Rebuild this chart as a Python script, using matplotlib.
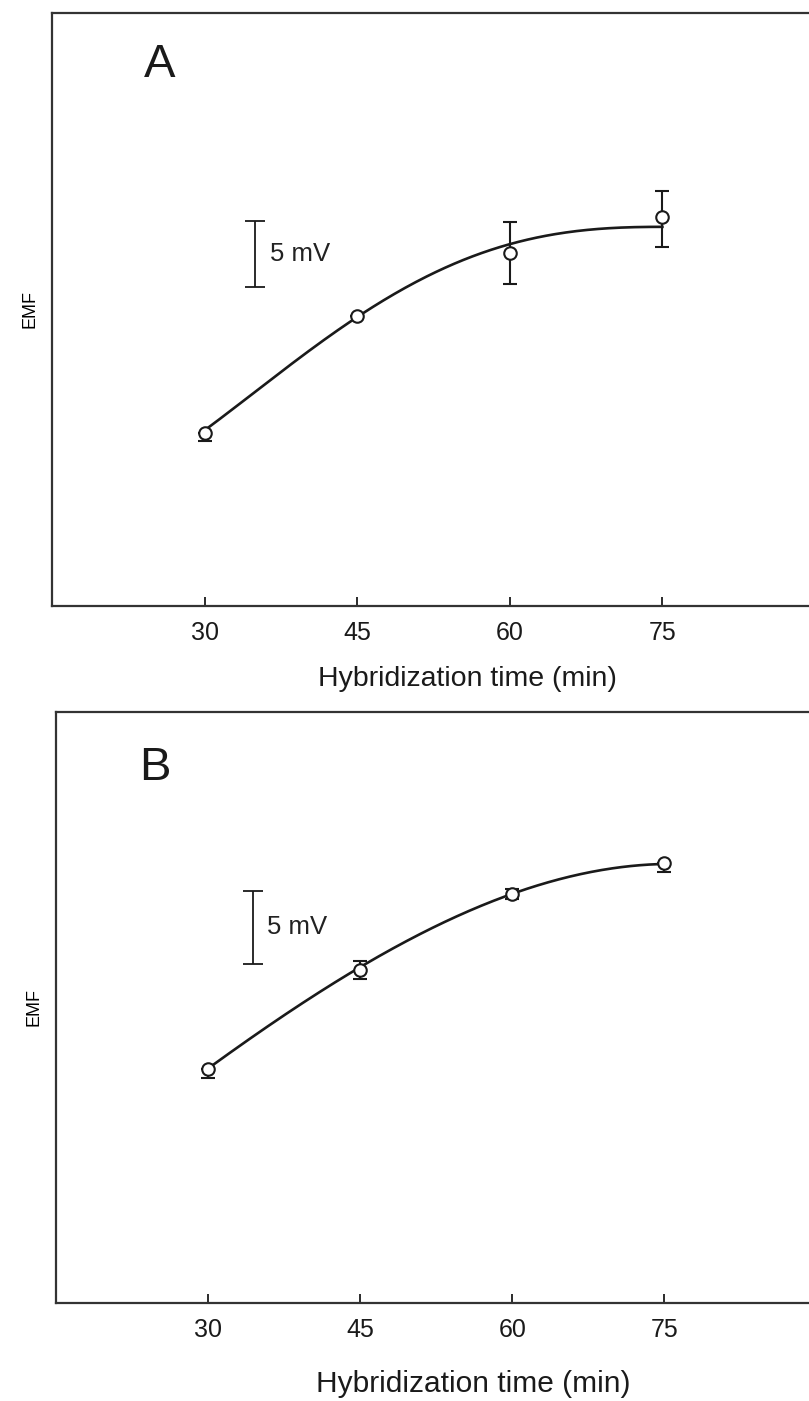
import numpy as np
import matplotlib.pyplot as plt

plt.rcParams['font.family'] = ['Liberation Sans', 'DejaVu Sans']

# hybridization time (min)
time = [30, 45, 60, 75]
tick_labels = ["30", "45", "60", "75"]

# panel A: EMF (mV, relative), error bars (lower, upper)
emf_a = [13.1, 22.0, 26.8, 29.5]
err_a_lo = [0.6, 0.0, 2.4, 2.3]
err_a_hi = [0.0, 0.0, 2.3, 2.0]
# fitted curve
fit_t = [30, 37.5, 45, 52.5, 60, 67.5, 75]
fit_a = [13.3, 17.8, 21.9, 25.1, 27.6, 28.5, 28.7]

# panel B
emf_b = [16.2, 23.1, 28.4, 30.5]
err_b_lo = [0.62, 0.65, 0.35, 0.62]
err_b_hi = [0.0, 0.65, 0.35, 0.0]
fit_b = [16.3, 19.9, 23.3, 26.2, 28.45, 29.75, 30.5]

scale_mv = 5.0


def fit_curve(t, y, xs, flat_end):
    # least squares polynomial through the curve readings
    t = np.asarray(t, float)
    if flat_end:
        # no linear term in (t_end - t): curve levels off at the last time
        s, ss = t[-1] - t, t[-1] - xs
        A = np.vstack([s**0, s**2, s**3, s**4]).T
        c = np.linalg.lstsq(A, y, rcond=None)[0]
        return c[0] + c[1]*ss**2 + c[2]*ss**3 + c[3]*ss**4
    return np.polyval(np.polyfit(t, y, 3), xs)


fig = plt.figure(figsize=(8.09, 14.01), dpi=100)
ax_a = fig.add_axes([52/809, 1-606/1401, 763/809, 593.5/1401])
ax_b = fig.add_axes([56/809, 1-1303/1401, 760.5/809, 591/1401])

panels = [
    (ax_a, emf_a, err_a_lo, err_a_hi, fit_a, True, "A", 45.0, (35.0, 24.2),
     (0.141, 0.912), 20.5, 15, 0.544),
    (ax_b, emf_b, err_b_lo, err_b_hi, fit_b, False, "B", 41.0, (34.45, 23.55),
     (0.130, 0.905), 21.5, 20, 0.548),
]

for (ax, emf, lo, hi, fv, flat, letter, ytop, bar, lpos, xl_size, xl_pad,
     xl_x) in panels:
    xs = np.linspace(fit_t[0], fit_t[-1], 300)
    ax.plot(xs, fit_curve(fit_t, fv, xs, flat), color='#1a1a1a', lw=1.9,
            zorder=2)
    ax.errorbar(time, emf, yerr=[lo, hi], fmt='o', ms=9, mfc='white',
                mec='#1a1a1a', mew=1.5, ecolor='#1a1a1a', elinewidth=1.5,
                capsize=5, capthick=1.5, zorder=3)

    # 5 mV scale bar
    ax.errorbar([bar[0]], [bar[1] + scale_mv/2], yerr=[scale_mv/2], fmt='none',
                ecolor='#1a1a1a', elinewidth=1.3, capsize=7, capthick=1.3)
    ax.text(bar[0] + 1.4, bar[1] + scale_mv/2, "5 mV", fontsize=18.5,
            va='center', ha='left', color='#222222')

    ax.text(lpos[0], lpos[1], letter, transform=ax.transAxes, fontsize=34,
            va='center', ha='center', color='#1a1a1a')

    ax.set_xlim(15, 90)
    ax.set_ylim(0, ytop)
    ax.set_xticks(time)
    ax.set_xticklabels(tick_labels)
    ax.set_yticks([])
    ax.tick_params(axis='x', direction='in', length=6.5, width=1.3,
                   labelsize=18, pad=11, colors='#1a1a1a')
    ax.set_xlabel("Hybridization time (min)", fontsize=xl_size,
                  labelpad=xl_pad, color='#1a1a1a')
    ax.xaxis.label.set_x(xl_x)
    ax.set_ylabel("EMF", fontsize=13, labelpad=10)
    for s in ax.spines.values():
        s.set_linewidth(1.6)
        s.set_color('#333333')

fig.savefig("out.png", dpi=100)
